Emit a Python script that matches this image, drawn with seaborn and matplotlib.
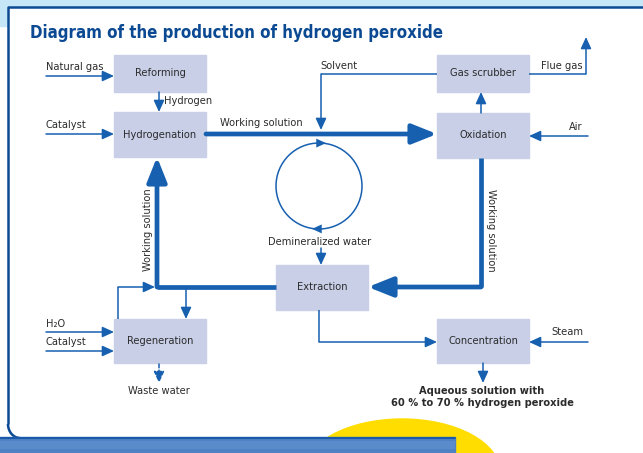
import matplotlib
matplotlib.use('Agg')
import matplotlib.pyplot as plt
from matplotlib import font_manager
from matplotlib.patches import Rectangle, Circle, Ellipse, Arc
import seaborn as sns

sns.set_style('white')

title = 'Diagram of the production of hydrogen peroxide'

# process units: name -> (left, top, right, bottom) in pixel space
units = ['Reforming', 'Hydrogenation', 'Gas scrubber', 'Oxidation',
         'Extraction', 'Regeneration', 'Concentration']
boxes = {
    'Reforming': (114, 55, 206, 92),
    'Hydrogenation': (114, 112, 206, 157),
    'Gas scrubber': (437, 55, 529, 92),
    'Oxidation': (437, 113, 529, 158),
    'Extraction': (276, 265, 368, 310),
    'Regeneration': (114, 319, 206, 363),
    'Concentration': (437, 319, 529, 363),
}

inputs_left = ['Natural gas', 'Catalyst', 'H\u2082O', 'Catalyst']
inputs_right = ['Flue gas', 'Air', 'Steam']
stream = 'Working solution'
product = 'Aqueous solution with\n60 % to 70 % hydrogen peroxide'

# pick a narrow face if one is installed
fonts = font_manager.fontManager.ttflist
names = {f.name for f in fonts}
stretch = 'normal'
if 'Liberation Sans Narrow' in names:
    fam = 'Liberation Sans Narrow'
elif any(f.name == 'DejaVu Sans' and f.stretch in ('condensed', 'semi-condensed') for f in fonts):
    fam = 'DejaVu Sans'
    stretch = 'condensed'
else:
    fam = 'Lato'
plt.rcParams['font.family'] = [fam, 'DejaVu Sans']
plt.rcParams['font.stretch'] = stretch

BLUE = '#1760b0'
DARK = '#0b4a93'
BOXC = '#c8cfe7'
TXT = '#2b2b2b'
FS = 7.9

fig = plt.figure(figsize=(6.43, 4.53), dpi=100)
ax = fig.add_axes([0, 0, 1, 1])
ax.set_xlim(0, 643)
ax.set_ylim(453, 0)
ax.axis('off')

# page background
ax.add_patch(Rectangle((0, 0), 643, 26, color='#c6e7f7', zorder=0))
ax.add_patch(Rectangle((8, 7), 640, 432, color='white', zorder=1))
ax.plot([643, 8, 8], [7, 7, 424], color=DARK, lw=1.8, zorder=2,
        solid_capstyle='butt')
ax.add_patch(Arc((20, 424), 24, 28, theta1=90, theta2=180,
                 color=DARK, lw=1.8, zorder=2))
ax.add_patch(Ellipse((402, 472), 196, 106, color='#ffdd00', zorder=2))
ax.add_patch(Rectangle((0, 437), 455, 20, color='#4f82c4', zorder=3))
ax.add_patch(Rectangle((0, 441), 455, 8, color='#5a8bca', lw=0, zorder=3))
ax.plot([0, 455], [437.5, 437.5], color='#1a5aa8', lw=1.5, zorder=3)

ax.text(30, 33, title, fontsize=12.1, fontweight='bold', color=DARK,
        va='center', ha='left', zorder=5)

for name in units:
    l, t, r, b = boxes[name]
    ax.add_patch(Rectangle((l, t), r - l, b - t, color=BOXC, zorder=4))
    ax.text((l + r) / 2, (t + b) / 2, name, fontsize=FS, color=TXT,
            ha='center', va='center', zorder=5)


def flow(pts, thick=False, dashed=False):
    lw = 3.4 if thick else 1.1
    ls = (0, (2.5, 1.5)) if dashed else '-'
    xs, ys = zip(*pts)
    ax.plot(xs[:-1], ys[:-1], color=BLUE, lw=lw, ls=ls,
            solid_capstyle='butt', solid_joinstyle='miter', zorder=4)
    if thick:
        style = '-|>,head_length=0.75,head_width=0.3'
        ms = 20
    else:
        style = '-|>,head_length=0.7,head_width=0.32'
        ms = 10
    ax.annotate('', xy=pts[-1], xytext=pts[-2],
                arrowprops=dict(arrowstyle=style, mutation_scale=ms,
                                color=BLUE, lw=lw, ls=ls,
                                shrinkA=0, shrinkB=0), zorder=4)


# feed lines on the left
flow([(46, 76), (114, 76)])
flow([(46, 134), (114, 134)])
flow([(46, 332), (114, 332)])
flow([(46, 351), (114, 351)])
# right side feeds / outputs
flow([(588, 136), (529, 136)])
flow([(588, 342), (529, 342)])
flow([(529, 74), (586, 74), (586, 37)])
flow([(437, 74), (321, 74), (321, 130)])
flow([(481, 113), (481, 92)])
flow([(159, 92), (159, 112)])
# main working solution loop
flow([(206, 134), (437, 134)], thick=True)
flow([(481, 158), (481, 287), (368, 287)], thick=True)
flow([(276, 287), (157, 287), (157, 157)], thick=True)
# regeneration side loop
flow([(186, 287), (186, 319)])
flow([(118, 319), (118, 287), (155, 287)])
flow([(159, 364), (159, 383)], dashed=True)
# extraction to concentration
flow([(319, 310), (319, 342), (437, 342)])
flow([(483, 363), (483, 383)])
flow([(321, 248), (321, 265)])

# demineralized water circuit
ax.add_patch(Circle((319, 186), 43, fill=False, ec=BLUE, lw=1.1, zorder=4))
for a, b in [((314, 143.1), (326, 143.1)), ((324, 228.9), (312, 228.9))]:
    ax.annotate('', xy=b, xytext=a,
                arrowprops=dict(arrowstyle='-|>,head_length=0.7,head_width=0.32',
                                mutation_scale=10, color=BLUE, lw=0.01,
                                shrinkA=0, shrinkB=0), zorder=4)

# labels
kw = dict(fontsize=FS, color=TXT, va='center', zorder=5)
ax.text(46, 67, inputs_left[0], ha='left', **kw)
ax.text(46, 125, inputs_left[1], ha='left', **kw)
ax.text(46, 324, inputs_left[2], ha='left', **kw)
ax.text(46, 342, inputs_left[3], ha='left', **kw)
ax.text(583, 66, inputs_right[0], ha='right', **kw)
ax.text(583, 127, inputs_right[1], ha='right', **kw)
ax.text(583, 332, inputs_right[2], ha='right', **kw)
ax.text(164, 101, 'Hydrogen', ha='left', **kw)
ax.text(320, 66, 'Solvent', ha='left', **kw)
ax.text(220, 123, stream, ha='left', **kw)
ax.text(148, 230, stream, ha='center', rotation=90, **kw)
ax.text(491, 230, stream, ha='center', rotation=-90, **kw)
ax.text(320, 242, 'Demineralized water', ha='center', **kw)
ax.text(159, 391, 'Waste water', ha='center', **kw)
ax.text(482, 397, product, ha='center', fontsize=FS, color=TXT,
        fontweight='bold', va='center', linespacing=1.25, zorder=5)

fig.savefig('out.png', dpi=100)
